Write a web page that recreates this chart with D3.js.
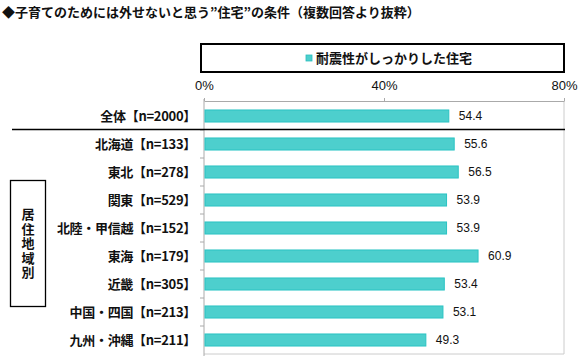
<!DOCTYPE html>
<html><head><meta charset="utf-8">
<script src="https://cdn.jsdelivr.net/npm/d3@7"></script>
<style>body{margin:0;background:#fff;}svg{display:block;font-family:"Noto Sans CJK JP","Noto Sans",sans-serif;}</style>
</head><body>
<svg id="c" width="580" height="359"></svg>
<script>
const title = "◆子育てのためには外せないと思う\u201D住宅\u201Dの条件（複数回答より抜粋）";
const seriesName = "耐震性がしっかりした住宅";
const categories = ["全体【n=2000】","北海道【n=133】","東北【n=278】","関東【n=529】","北陸・甲信越【n=152】","東海【n=179】","近畿【n=305】","中国・四国【n=213】","九州・沖縄【n=211】"];
const values = [54.4, 55.6, 56.5, 53.9, 53.9, 60.9, 53.4, 53.1, 49.3];
const tickValues = [0, 40, 80];
const groupLabel = "居住地域別";

const svg = d3.select("#c");
const x = d3.scaleLinear().domain([0, 80]).range([204, 564]);
const y = d3.scaleBand().domain(categories).range([102, 354]).paddingInner(0.57).paddingOuter(0.285);

// title
svg.append("text").attr("x", 2).attr("y", 17).attr("font-size", 13).attr("font-weight", "bold").attr("fill", "#111").text(title);

// legend box
svg.append("rect").attr("x", 201).attr("y", 44).attr("width", 363).attr("height", 28).attr("fill", "#fff").attr("stroke", "#000").attr("stroke-width", 2);
const lg = svg.append("g");
lg.append("text").attr("x", 316).attr("y", 63).attr("font-size", 13).attr("font-weight", "bold").attr("fill", "#111").text(seriesName);
lg.append("rect").attr("x", 306).attr("y", 55).attr("width", 6).attr("height", 6).attr("fill", "#4dcfcd").attr("stroke", "#2bbdbd").attr("stroke-width", 0.8);

// plot frame
svg.append("line").attr("x1", 564).attr("x2", 564).attr("y1", 101).attr("y2", 354).attr("stroke", "#ccc");
svg.append("line").attr("x1", 204).attr("x2", 564).attr("y1", 354).attr("y2", 354).attr("stroke", "#ccc");

// top axis
const ax = svg.append("g").attr("transform", "translate(0,101)")
  .call(d3.axisTop(x).tickValues(tickValues).tickFormat(d => d + "%").tickSize(3).tickSizeOuter(0));
ax.select(".domain").attr("stroke", "#aaa");
ax.selectAll(".tick line").attr("stroke", "#aaa");
ax.selectAll("text").attr("font-size", 13).attr("fill", "#111").attr("font-family", "'Liberation Sans',Arial,sans-serif").attr("dy", "-0.35em");

// left axis with ticks at band boundaries
const ay = svg.append("g").attr("transform", "translate(204,0)");
ay.append("line").attr("x1", 0).attr("x2", 0).attr("y1", 99).attr("y2", 356).attr("stroke", "#aaa");
const step = y.step();
ay.selectAll("line.t").data(categories.slice(1)).join("line").attr("class", "t")
  .attr("x1", -4).attr("x2", 0)
  .attr("y1", d => y(d) - (step - y.bandwidth()) / 2).attr("y2", d => y(d) - (step - y.bandwidth()) / 2)
  .attr("stroke", "#aaa");
ay.selectAll("text").data(categories).join("text")
  .attr("x", -8).attr("y", d => y(d) + y.bandwidth() / 2).attr("dy", "0.36em")
  .attr("text-anchor", "end").attr("font-size", 13).attr("font-weight", "bold").attr("fill", "#111")
  .attr("letter-spacing", -0.3).text(d => d);

// bars
svg.selectAll("rect.bar").data(values).join("rect").attr("class", "bar")
  .attr("x", x(0) + 1).attr("y", (d, i) => y(categories[i]))
  .attr("width", d => x(d) - x(0) - 1).attr("height", y.bandwidth())
  .attr("fill", "#4dcfcd").attr("stroke", "#2bc3c3").attr("stroke-width", 1);

svg.selectAll("text.val").data(values).join("text").attr("class", "val")
  .attr("x", d => x(d) + 10).attr("y", (d, i) => y(categories[i]) + y.bandwidth() / 2).attr("dy", "0.36em")
  .attr("font-size", 12).attr("fill", "#111").attr("font-family", "'Liberation Sans',Arial,sans-serif").text(d => d.toFixed(1));

// separator
svg.append("line").attr("x1", 12).attr("x2", 565).attr("y1", 129.5).attr("y2", 129.5).attr("stroke", "#000").attr("stroke-width", 1.5);

// group box
svg.append("rect").attr("x", 10.5).attr("y", 180.5).attr("width", 35).attr("height", 126).attr("fill", "#fff").attr("stroke", "#000").attr("stroke-width", 1.3);
svg.append("text").attr("x", 28).attr("y", 208)
  .style("writing-mode", "vertical-rl").attr("letter-spacing", 1.5)
  .attr("font-size", 13).attr("font-weight", "bold").attr("fill", "#111").text(groupLabel);
</script>
</body></html>
